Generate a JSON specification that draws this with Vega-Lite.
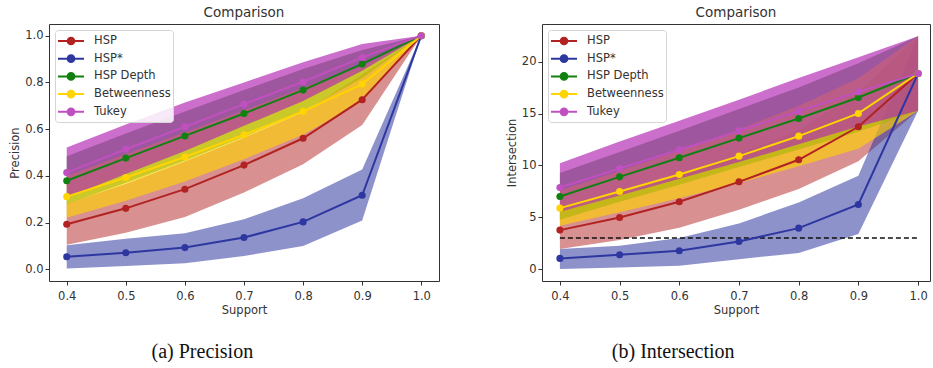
{
  "$schema": "https://vega.github.io/schema/vega-lite/v6.json",
  "padding": {"left": 9, "top": 5, "right": 0, "bottom": 0},
  "background": "white",
  "config": {
    "font": "DejaVu Sans",
    "view": {"stroke": "#333", "strokeWidth": 1},
    "title": {"fontSize": 13.5, "fontWeight": "normal", "color": "#333", "font": "DejaVu Sans", "offset": 5},
    "axis": {"grid": false, "domain": false, "tickColor": "#333", "tickSize": 4, "labelFontSize": 11.5, "labelColor": "#333", "titleFontSize": 11.5, "titleFontWeight": "normal", "titleColor": "#333", "labelPadding": 2, "titlePadding": 4},
    "axisX": {"labelPadding": 5, "titlePadding": 3},
    "legend": {"orient": "top-left", "offset": 6, "padding": 2, "strokeColor": "#d5d5d5", "fillColor": "rgba(255,255,255,0.85)", "cornerRadius": 3, "labelFontSize": 11.5, "labelColor": "#333", "labelOffset": 19, "rowPadding": 0.7, "symbolSize": 256, "symbolStrokeWidth": 2, "symbolType": "M-1,0H2.25M0.205,0A0.42,0.42,0,1,1,1.045,0A0.42,0.42,0,1,1,0.205,0M0.355,0A0.27,0.27,0,1,1,0.895,0A0.27,0.27,0,1,1,0.355,0M0.505,0A0.12,0.12,0,1,1,0.745,0A0.12,0.12,0,1,1,0.505,0", "symbolFillColor": "transparent"}
  },
  "datasets": {
    "prec": [
      {"s": 0.4, "method": "HSP", "m": 0.193, "lo": 0.105, "hi": 0.281},
      {"s": 0.5, "method": "HSP", "m": 0.261, "lo": 0.157, "hi": 0.365},
      {"s": 0.6, "method": "HSP", "m": 0.343, "lo": 0.224, "hi": 0.462},
      {"s": 0.7, "method": "HSP", "m": 0.446, "lo": 0.329, "hi": 0.563},
      {"s": 0.8, "method": "HSP", "m": 0.561, "lo": 0.45, "hi": 0.672},
      {"s": 0.9, "method": "HSP", "m": 0.726, "lo": 0.618, "hi": 0.834},
      {"s": 1.0, "method": "HSP", "m": 1.0, "lo": 1.0, "hi": 1.0},
      {"s": 0.4, "method": "HSP*", "m": 0.054, "lo": 0.003, "hi": 0.103},
      {"s": 0.5, "method": "HSP*", "m": 0.071, "lo": 0.014, "hi": 0.131},
      {"s": 0.6, "method": "HSP*", "m": 0.093, "lo": 0.026, "hi": 0.154},
      {"s": 0.7, "method": "HSP*", "m": 0.136, "lo": 0.057, "hi": 0.214},
      {"s": 0.8, "method": "HSP*", "m": 0.203, "lo": 0.1, "hi": 0.304},
      {"s": 0.9, "method": "HSP*", "m": 0.317, "lo": 0.209, "hi": 0.427},
      {"s": 1.0, "method": "HSP*", "m": 1.0, "lo": 1.0, "hi": 1.0},
      {"s": 0.4, "method": "HSP Depth", "m": 0.379, "lo": 0.279, "hi": 0.484},
      {"s": 0.5, "method": "HSP Depth", "m": 0.476, "lo": 0.371, "hi": 0.581},
      {"s": 0.6, "method": "HSP Depth", "m": 0.571, "lo": 0.466, "hi": 0.676},
      {"s": 0.7, "method": "HSP Depth", "m": 0.667, "lo": 0.567, "hi": 0.767},
      {"s": 0.8, "method": "HSP Depth", "m": 0.767, "lo": 0.677, "hi": 0.857},
      {"s": 0.9, "method": "HSP Depth", "m": 0.879, "lo": 0.819, "hi": 0.939},
      {"s": 1.0, "method": "HSP Depth", "m": 1.0, "lo": 1.0, "hi": 1.0},
      {"s": 0.4, "method": "Betweenness", "m": 0.311, "lo": 0.221, "hi": 0.401},
      {"s": 0.5, "method": "Betweenness", "m": 0.393, "lo": 0.293, "hi": 0.493},
      {"s": 0.6, "method": "Betweenness", "m": 0.481, "lo": 0.376, "hi": 0.586},
      {"s": 0.7, "method": "Betweenness", "m": 0.576, "lo": 0.471, "hi": 0.681},
      {"s": 0.8, "method": "Betweenness", "m": 0.676, "lo": 0.576, "hi": 0.776},
      {"s": 0.9, "method": "Betweenness", "m": 0.793, "lo": 0.718, "hi": 0.868},
      {"s": 1.0, "method": "Betweenness", "m": 1.0, "lo": 1.0, "hi": 1.0},
      {"s": 0.4, "method": "Tukey", "m": 0.414, "lo": 0.307, "hi": 0.521},
      {"s": 0.5, "method": "Tukey", "m": 0.514, "lo": 0.408, "hi": 0.62},
      {"s": 0.6, "method": "Tukey", "m": 0.61, "lo": 0.506, "hi": 0.714},
      {"s": 0.7, "method": "Tukey", "m": 0.707, "lo": 0.614, "hi": 0.8},
      {"s": 0.8, "method": "Tukey", "m": 0.803, "lo": 0.72, "hi": 0.886},
      {"s": 0.9, "method": "Tukey", "m": 0.907, "lo": 0.85, "hi": 0.964},
      {"s": 1.0, "method": "Tukey", "m": 1.0, "lo": 1.0, "hi": 1.0}
    ],
    "inter": [
      {"s": 0.4, "method": "HSP", "m": 3.76, "lo": 1.95, "hi": 5.57},
      {"s": 0.5, "method": "HSP", "m": 4.98, "lo": 2.8, "hi": 7.16},
      {"s": 0.6, "method": "HSP", "m": 6.5, "lo": 4.0, "hi": 9.0},
      {"s": 0.7, "method": "HSP", "m": 8.42, "lo": 5.72, "hi": 11.12},
      {"s": 0.8, "method": "HSP", "m": 10.55, "lo": 7.72, "hi": 13.38},
      {"s": 0.9, "method": "HSP", "m": 13.73, "lo": 10.4, "hi": 17.06},
      {"s": 1.0, "method": "HSP", "m": 18.87, "lo": 15.27, "hi": 22.47},
      {"s": 0.4, "method": "HSP*", "m": 1.03, "lo": 0.0, "hi": 1.93},
      {"s": 0.5, "method": "HSP*", "m": 1.38, "lo": 0.16, "hi": 2.25},
      {"s": 0.6, "method": "HSP*", "m": 1.77, "lo": 0.32, "hi": 2.99},
      {"s": 0.7, "method": "HSP*", "m": 2.67, "lo": 0.96, "hi": 4.4},
      {"s": 0.8, "method": "HSP*", "m": 3.95, "lo": 1.54, "hi": 6.43},
      {"s": 0.9, "method": "HSP*", "m": 6.24, "lo": 3.38, "hi": 9.0},
      {"s": 1.0, "method": "HSP*", "m": 18.87, "lo": 15.27, "hi": 22.47},
      {"s": 0.4, "method": "HSP Depth", "m": 7.01, "lo": 4.76, "hi": 9.26},
      {"s": 0.5, "method": "HSP Depth", "m": 8.9, "lo": 6.5, "hi": 11.3},
      {"s": 0.6, "method": "HSP Depth", "m": 10.74, "lo": 8.14, "hi": 13.34},
      {"s": 0.7, "method": "HSP Depth", "m": 12.64, "lo": 9.84, "hi": 15.44},
      {"s": 0.8, "method": "HSP Depth", "m": 14.53, "lo": 11.53, "hi": 17.53},
      {"s": 0.9, "method": "HSP Depth", "m": 16.56, "lo": 13.26, "hi": 19.86},
      {"s": 1.0, "method": "HSP Depth", "m": 18.87, "lo": 15.27, "hi": 22.47},
      {"s": 0.4, "method": "Betweenness", "m": 5.88, "lo": 4.18, "hi": 7.58},
      {"s": 0.5, "method": "Betweenness", "m": 7.49, "lo": 5.49, "hi": 9.49},
      {"s": 0.6, "method": "Betweenness", "m": 9.13, "lo": 6.83, "hi": 11.43},
      {"s": 0.7, "method": "Betweenness", "m": 10.9, "lo": 8.3, "hi": 13.5},
      {"s": 0.8, "method": "Betweenness", "m": 12.83, "lo": 9.93, "hi": 15.73},
      {"s": 0.9, "method": "Betweenness", "m": 15.02, "lo": 11.62, "hi": 18.42},
      {"s": 1.0, "method": "Betweenness", "m": 18.87, "lo": 15.27, "hi": 22.47},
      {"s": 0.4, "method": "Tukey", "m": 7.88, "lo": 5.54, "hi": 10.22},
      {"s": 0.5, "method": "Tukey", "m": 9.71, "lo": 7.11, "hi": 12.31},
      {"s": 0.6, "method": "Tukey", "m": 11.51, "lo": 8.71, "hi": 14.31},
      {"s": 0.7, "method": "Tukey", "m": 13.34, "lo": 10.34, "hi": 16.34},
      {"s": 0.8, "method": "Tukey", "m": 15.24, "lo": 12.04, "hi": 18.44},
      {"s": 0.9, "method": "Tukey", "m": 17.1, "lo": 13.75, "hi": 20.45},
      {"s": 1.0, "method": "Tukey", "m": 18.87, "lo": 15.27, "hi": 22.47}
    ],
    "thresh": [{"x": 0.4, "x2": 1.0, "y": 3}]
  },
  "resolve": {"scale": {"color": "independent", "fill": "independent", "stroke": "independent", "opacity": "independent"}, "legend": {"stroke": "independent"}},
  "spacing": 65,
  "hconcat": [
    {
      "title": {"text": "(a) Precision", "orient": "bottom", "anchor": "middle", "dx": -22, "font": "Liberation Serif", "fontSize": 20, "color": "#111", "fontWeight": "normal", "offset": 25},
      "resolve": {"scale": {"color": "independent", "fill": "independent", "stroke": "independent", "opacity": "independent"}, "legend": {"stroke": "independent"}},
      "vconcat": [
        {
          "width": 390,
          "height": 257,
          "title": "Comparison",
          "data": {"name": "prec"},
          "encoding": {
            "x": {"field": "s", "type": "quantitative", "scale": {"domain": [0.37, 1.03], "nice": false, "zero": false}, "axis": {"values": [0.4, 0.5, 0.6, 0.7, 0.8, 0.9, 1.0], "format": ".1f", "title": "Support"}}
          },
          "layer": [
            {
              "mark": {"type": "area"},
              "encoding": {
                "y": {"field": "lo", "type": "quantitative", "scale": {"domain": [-0.05, 1.05], "nice": false, "zero": false}, "axis": {"values": [0, 0.2, 0.4, 0.6, 0.8, 1.0], "format": ".1f", "title": "Precision"}},
                "y2": {"field": "hi"},
                "fill": {"field": "method", "type": "nominal", "scale": {"domain": ["HSP", "HSP*", "HSP Depth", "Betweenness", "Tukey", "none"], "range": ["#b22222", "#2e37a0", "#108010", "#ffd400", "#b42ab4", "#ffffff"]}, "legend": null},
                "opacity": {"field": "method", "type": "nominal", "scale": {"domain": ["HSP", "HSP*", "HSP Depth", "Betweenness", "Tukey", "none"], "range": [0.5, 0.72, 0.35, 0.55, 0.55, 0]}, "legend": null}
              }
            },
            {
              "mark": {"type": "line", "strokeWidth": 2},
              "encoding": {
                "y": {"field": "m", "type": "quantitative"},
                "stroke": {"field": "method", "type": "nominal", "scale": {"domain": ["HSP", "HSP*", "HSP Depth", "Betweenness", "Tukey"], "range": ["#b22222", "#2e37a0", "#108010", "#ffd400", "#c050c0"]}, "legend": {"title": null}}
              }
            },
            {
              "mark": {"type": "point", "filled": true, "size": 50, "opacity": 1},
              "encoding": {
                "y": {"field": "m", "type": "quantitative"},
                "color": {"field": "method", "type": "nominal", "scale": {"domain": ["HSP", "HSP*", "HSP Depth", "Betweenness", "Tukey", "none"], "range": ["#b22222", "#2e37a0", "#108010", "#ffd400", "#c050c0", "#ffffff"]}, "legend": null}
              }
            }
          ]
        }
      ]
    },
    {
      "title": {"text": "(b) Intersection", "orient": "bottom", "anchor": "middle", "dx": -45, "font": "Liberation Serif", "fontSize": 20, "color": "#111", "fontWeight": "normal", "offset": 25},
      "resolve": {"scale": {"color": "independent", "fill": "independent", "stroke": "independent", "opacity": "independent"}, "legend": {"stroke": "independent"}},
      "vconcat": [
        {
          "width": 388,
          "height": 257,
          "title": "Comparison",
          "encoding": {
            "x": {"field": "s", "type": "quantitative", "scale": {"domain": [0.37, 1.02], "nice": false, "zero": false}, "axis": {"values": [0.4, 0.5, 0.6, 0.7, 0.8, 0.9, 1.0], "format": ".1f", "title": "Support"}}
          },
          "layer": [
            {
              "data": {"name": "inter"},
              "mark": {"type": "area"},
              "encoding": {
                "y": {"field": "lo", "type": "quantitative", "scale": {"domain": [-1.15, 23.65], "nice": false, "zero": false}, "axis": {"values": [0, 5, 10, 15, 20], "title": "Intersection"}},
                "y2": {"field": "hi"},
                "fill": {"field": "method", "type": "nominal", "scale": {"domain": ["HSP", "HSP*", "HSP Depth", "Betweenness", "Tukey", "none"], "range": ["#b22222", "#2e37a0", "#108010", "#ffd400", "#b42ab4", "#ffffff"]}, "legend": null},
                "opacity": {"field": "method", "type": "nominal", "scale": {"domain": ["HSP", "HSP*", "HSP Depth", "Betweenness", "Tukey", "none"], "range": [0.5, 0.72, 0.35, 0.55, 0.55, 0]}, "legend": null}
              }
            },
            {
              "data": {"name": "thresh"},
              "mark": {"type": "rule", "strokeDash": [5, 3], "color": "#111", "strokeWidth": 1.5},
              "encoding": {
                "x": {"field": "x", "type": "quantitative"},
                "x2": {"field": "x2"},
                "y": {"field": "y", "type": "quantitative"}
              }
            },
            {
              "data": {"name": "inter"},
              "mark": {"type": "line", "strokeWidth": 2},
              "encoding": {
                "y": {"field": "m", "type": "quantitative"},
                "stroke": {"field": "method", "type": "nominal", "scale": {"domain": ["HSP", "HSP*", "HSP Depth", "Betweenness", "Tukey"], "range": ["#b22222", "#2e37a0", "#108010", "#ffd400", "#c050c0"]}, "legend": {"title": null}}
              }
            },
            {
              "data": {"name": "inter"},
              "mark": {"type": "point", "filled": true, "size": 50, "opacity": 1},
              "encoding": {
                "y": {"field": "m", "type": "quantitative"},
                "color": {"field": "method", "type": "nominal", "scale": {"domain": ["HSP", "HSP*", "HSP Depth", "Betweenness", "Tukey", "none"], "range": ["#b22222", "#2e37a0", "#108010", "#ffd400", "#c050c0", "#ffffff"]}, "legend": null}
              }
            }
          ]
        }
      ]
    }
  ]
}
